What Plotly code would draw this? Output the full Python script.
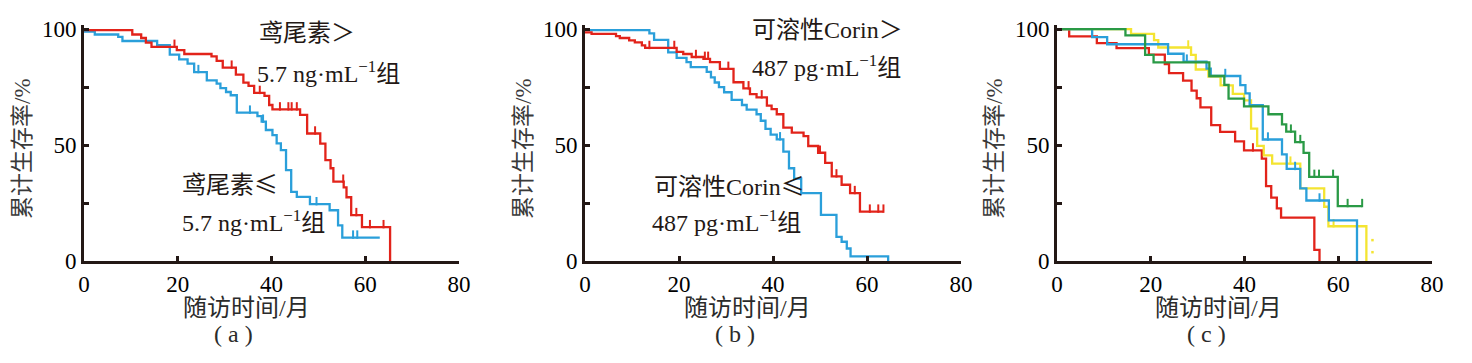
import plotly.graph_objects as go

# ---------------- data ----------------
# Panel (a): irisin groups
a_hi_s0 = 99.6
a_hi_t = [10.3, 12.2, 13.2, 14.4, 19.8, 21.4, 27.2, 28.3, 29.6, 32.4, 34.0, 35.1, 36.3, 38.5, 39.5, 40.2,
          46.1, 47.6, 50.4, 51.5, 52.6, 53.2, 55.4, 56.0, 57.0, 59.3, 65.3]
a_hi_s = [97.7, 96.2, 94.2, 92.4, 91.0, 89.3, 88.3, 86.3, 83.4, 80.4, 76.9, 75.5, 72.5, 71.2, 67.3, 65.4,
          63.0, 55.0, 50.6, 43.5, 40.0, 34.2, 31.8, 27.5, 19.8, 14.6, 0]
a_hi_end = 65.3
a_hi_cens = [19.3, 31.5, 37.5, 41.8, 43.6, 44.3, 45.4, 49.3, 55.3, 58.1, 61.0, 63.9]

a_lo_s0 = 99.0
a_lo_t = [2.3, 7.3, 8.2, 15.6, 18.3, 20.3, 22.1, 23.5, 26.2, 28.3, 29.1, 30.3, 31.3, 32.6, 37.0, 37.9,
          38.8, 40.2, 41.1, 42.0, 43.1, 44.2, 45.4, 48.2, 52.4, 54.2, 55.1]
a_lo_s = [97.7, 96.7, 94.9, 93.1, 89.0, 87.0, 85.1, 81.5, 77.9, 76.5, 74.6, 72.9, 71.5, 64.0, 62.5, 60.1,
          56.5, 54.3, 50.7, 47.8, 39.2, 29.8, 27.7, 24.5, 21.9, 15.4, 10.1]
a_lo_end = 63.1
a_lo_cens = [24.4, 35.4, 38.2, 49.6, 57.4, 58.3]

# Panel (b): soluble Corin groups
b_hi_s0 = 98.6
b_hi_t = [1.4, 6.6, 7.4, 9.4, 10.6, 12.1, 12.8, 19.5, 20.9, 22.7, 25.2, 26.6, 28.7, 31.6, 33.7, 35.1,
          36.5, 38.7, 39.7, 40.8, 42.2, 44.0, 46.5, 47.5, 49.6, 51.1, 52.5, 54.6, 56.4, 58.5]
b_hi_s = [98.0, 97.0, 96.2, 95.2, 94.3, 93.0, 91.9, 90.2, 89.3, 88.0, 87.2, 85.8, 82.9, 77.1, 74.5, 72.0,
          70.6, 67.0, 65.5, 63.3, 57.5, 55.4, 53.9, 49.6, 46.7, 42.3, 36.5, 32.9, 29.3, 21.3]
b_hi_end = 63.5
b_hi_cens = [13.7, 19.0, 23.6, 25.5, 26.2, 30.5, 34.8, 37.6, 50.0, 53.5, 57.4, 60.6, 62.4, 63.5]

b_lo_s0 = 99.6
b_lo_t = [13.7, 14.7, 17.7, 19.5, 21.6, 22.5, 25.9, 26.8, 27.6, 28.5, 29.6, 31.2, 33.4, 34.4, 36.5, 37.4,
          38.4, 39.5, 40.8, 42.2, 43.4, 44.5, 46.0, 50.2, 53.5, 54.6, 55.7, 56.5, 64.5]
b_lo_s = [98.2, 95.4, 90.0, 87.6, 85.8, 83.6, 81.6, 79.2, 77.0, 75.0, 72.8, 69.5, 67.3, 65.3, 63.3, 60.5,
          57.0, 54.5, 52.5, 47.2, 40.0, 35.5, 29.3, 19.9, 10.4, 8.3, 5.4, 2.0, 0]
b_lo_end = 64.5
b_lo_cens = [41.5]

# Panel (c): four groups
c_red_t = [2.6, 8.5, 12.7, 19.6, 23.0, 23.9, 26.9, 28.7, 29.8, 30.6, 32.9, 34.8, 38.0, 39.9, 43.7, 44.6,
           45.7, 46.9, 47.8, 54.9, 56.0]
c_red_s = [96.9, 94.0, 91.8, 89.0, 84.9, 81.0, 77.8, 73.5, 70.2, 66.3, 58.6, 55.7, 51.6, 47.7, 44.2, 32.3,
           27.3, 22.7, 18.7, 4.8, 0]
c_red_cens = [41.8]

c_yel_t = [15.8, 20.7, 21.6, 28.6, 29.6, 32.3, 34.9, 37.5, 39.9, 41.4, 42.7, 44.1, 45.9, 51.9, 57.0, 57.9, 66.0]
c_yel_s = [98.0, 95.3, 92.1, 88.9, 82.6, 79.5, 75.8, 72.1, 69.3, 57.1, 49.7, 45.6, 42.0, 31.3, 23.4, 15.0, 0]
c_yel_cens = [28.0, 49.8, 59.0]
c_yel_dots_t = [67.3, 67.3]
c_yel_dots_s = [9.0, 3.8]

c_blu_t = [7.5, 10.7, 23.7, 27.0, 31.9, 32.8, 39.1, 40.2, 41.1, 43.9, 48.0, 49.0, 51.9, 53.2, 58.0, 64.0]
c_blu_s = [96.6, 93.5, 89.4, 86.0, 83.0, 79.8, 75.9, 72.3, 67.2, 52.4, 46.0, 39.7, 31.3, 26.1, 17.5, 0]
c_blu_cens = [27.7, 35.9, 45.0, 50.8, 56.0]

c_grn_t = [14.6, 18.8, 20.6, 32.5, 35.7, 36.6, 39.9, 45.1, 48.0, 48.9, 50.8, 52.6, 53.8, 59.9]
c_grn_s = [97.3, 88.9, 85.7, 79.8, 76.0, 70.0, 66.7, 63.3, 58.9, 55.8, 51.3, 46.6, 36.3, 23.7]
c_grn_end = 65.1
c_grn_cens = [49.9, 51.9, 54.9, 55.9, 58.9, 62.0, 65.1]

x_ticks = [0, 20, 40, 60, 80]
y_ticks = [0, 25, 50, 75, 100]
y_ticktext = ["0", "", "50", "", "100"]

# ---------------- style ----------------
RED = "#E2231A"
BLUE = "#2A9FDA"
YEL = "#F4E431"
GRN = "#2A9A46"
AX = "#231815"
SERIF = "Liberation Serif, Noto Sans CJK SC, serif"
W, H = 1472, 363
OFF = 8          # page body margin of the html page
TOP, BOT = 25, 261   # target pixel rows of y=101.8 and y=0 in the window

fig = go.Figure()


def step_xy(s0, t, s, end):
    x = [0] + list(t)
    y = [s0] + list(s)
    if end is not None and end > t[-1]:
        x.append(end)
        y.append(s[-1])
    return x, y


def surv_at(t0, s0, t, s):
    v = s0
    for ti, si in zip(t, s):
        if ti <= t0:
            v = si
    return v


def add_curve(xa, ya, s0, t, s, end, cens, color):
    x, y = step_xy(s0, t, s, end)
    fig.add_trace(go.Scatter(x=x, y=y, mode="lines", line=dict(color=color, width=2.3, shape="hv"),
                             xaxis=xa, yaxis=ya, showlegend=False, hoverinfo="skip"))
    if cens:
        cy = [surv_at(c, s0, t, s) + 1.3 for c in cens]
        fig.add_trace(go.Scatter(x=cens, y=cy, mode="markers",
                                 marker=dict(symbol="line-ns", size=6, line=dict(color=color, width=2)),
                                 xaxis=xa, yaxis=ya, showlegend=False, hoverinfo="skip"))


add_curve("x", "y", a_lo_s0, a_lo_t, a_lo_s, a_lo_end, a_lo_cens, BLUE)
add_curve("x", "y", a_hi_s0, a_hi_t, a_hi_s, a_hi_end, a_hi_cens, RED)
add_curve("x2", "y2", b_lo_s0, b_lo_t, b_lo_s, b_lo_end, b_lo_cens, BLUE)
add_curve("x2", "y2", b_hi_s0, b_hi_t, b_hi_s, b_hi_end, b_hi_cens, RED)
add_curve("x3", "y3", 100, c_red_t, c_red_s, None, c_red_cens, RED)
add_curve("x3", "y3", 100, c_yel_t, c_yel_s, None, c_yel_cens, YEL)
add_curve("x3", "y3", 100, c_blu_t, c_blu_s, None, c_blu_cens, BLUE)
add_curve("x3", "y3", 100, c_grn_t, c_grn_s, c_grn_end, c_grn_cens, GRN)
fig.add_trace(go.Scatter(x=c_yel_dots_t, y=c_yel_dots_s, mode="markers",
                         marker=dict(symbol="square", size=2.5, color=YEL),
                         xaxis="x3", yaxis="y3", showlegend=False, hoverinfo="skip"))


def px(xpx):
    return (xpx - OFF) / W


domains = [(84, 459), (585, 961), (1057, 1432)]
tickfont = dict(family=SERIF, size=23, color="#000000")
for i, (l, r) in enumerate(domains):
    sfx = "" if i == 0 else str(i + 1)
    fig.update_layout({
        "xaxis" + sfx: dict(domain=[px(l), px(r)], range=[0, 80], tickvals=x_ticks,
                            ticks="inside", ticklen=5, tickwidth=3, tickcolor=AX,
                            showline=True, linecolor=AX, linewidth=3, showgrid=False, zeroline=False,
                            tickfont=tickfont, anchor="y" + sfx, fixedrange=True, automargin=False),
        "yaxis" + sfx: dict(domain=[0, 1], range=[0, 101.8], tickvals=y_ticks, ticktext=y_ticktext,
                            ticks="inside", ticklen=5, tickwidth=3, tickcolor=AX,
                            showline=True, linecolor=AX, linewidth=3, showgrid=False, zeroline=False,
                            tickfont=tickfont, anchor="x" + sfx, fixedrange=True, automargin=False),
    })

ann = []
ph = BOT - TOP


def py(ypx):
    return (BOT - ypx) / ph


# x-axis titles and panel labels
for cx_title, cx_lab, lab in [(246, 233, "( a )"), (748, 735, "( b )"), (1218, 1206, "( c )")]:
    ann.append(dict(x=px(cx_title), y=py(308), xref="paper", yref="paper", text="随访时间/月",
                    showarrow=False, xanchor="center", yanchor="middle",
                    font=dict(family=SERIF, size=24, color="#2b2b2b")))
    ann.append(dict(x=px(cx_lab), y=py(334), xref="paper", yref="paper", text=lab,
                    showarrow=False, xanchor="center", yanchor="middle",
                    font=dict(family="Liberation Serif, serif", size=24, color="#2b2b2b")))
# y-axis titles
for cx in [22, 523, 994]:
    ann.append(dict(x=px(cx), y=py(149), xref="paper", yref="paper", text="累计生存率/%",
                    textangle=-90, showarrow=False, xanchor="center", yanchor="middle",
                    font=dict(family=SERIF, size=23, color="#3a3a3a")))

LE = '<span style="font-family:Noto Sans CJK SC">≤</span>'
gfont = dict(family=SERIF, size=24, color=AX)
groups = [
    ("x", "y", 36.9, 98.2, "鸢尾素＞"),
    ("x", "y", 36.5, 81.4, "5.7 ng·mL<sup>−1</sup>组"),
    ("x", "y", 20.5, 33.7, "鸢尾素" + LE),
    ("x", "y", 20.5, 17.3, "5.7 ng·mL<sup>−1</sup>组"),
    ("x2", "y2", 35.1, 99.5, "可溶性Corin＞"),
    ("x2", "y2", 35.1, 84.0, "487 pg·mL<sup>−1</sup>组"),
    ("x2", "y2", 14.3, 32.8, "可溶性Corin" + LE),
    ("x2", "y2", 13.9, 17.3, "487 pg·mL<sup>−1</sup>组"),
]
for xa, ya, gx, gy, txt in groups:
    ann.append(dict(x=gx, y=gy, xref=xa, yref=ya, text=txt, showarrow=False,
                    xanchor="left", yanchor="middle", font=gfont))

fig.update_layout(width=W, height=H, margin=dict(l=0, r=0, t=TOP - OFF, b=H - (BOT - OFF)),
                  paper_bgcolor="white", plot_bgcolor="white", annotations=ann)

fig.write_html("out.html")
